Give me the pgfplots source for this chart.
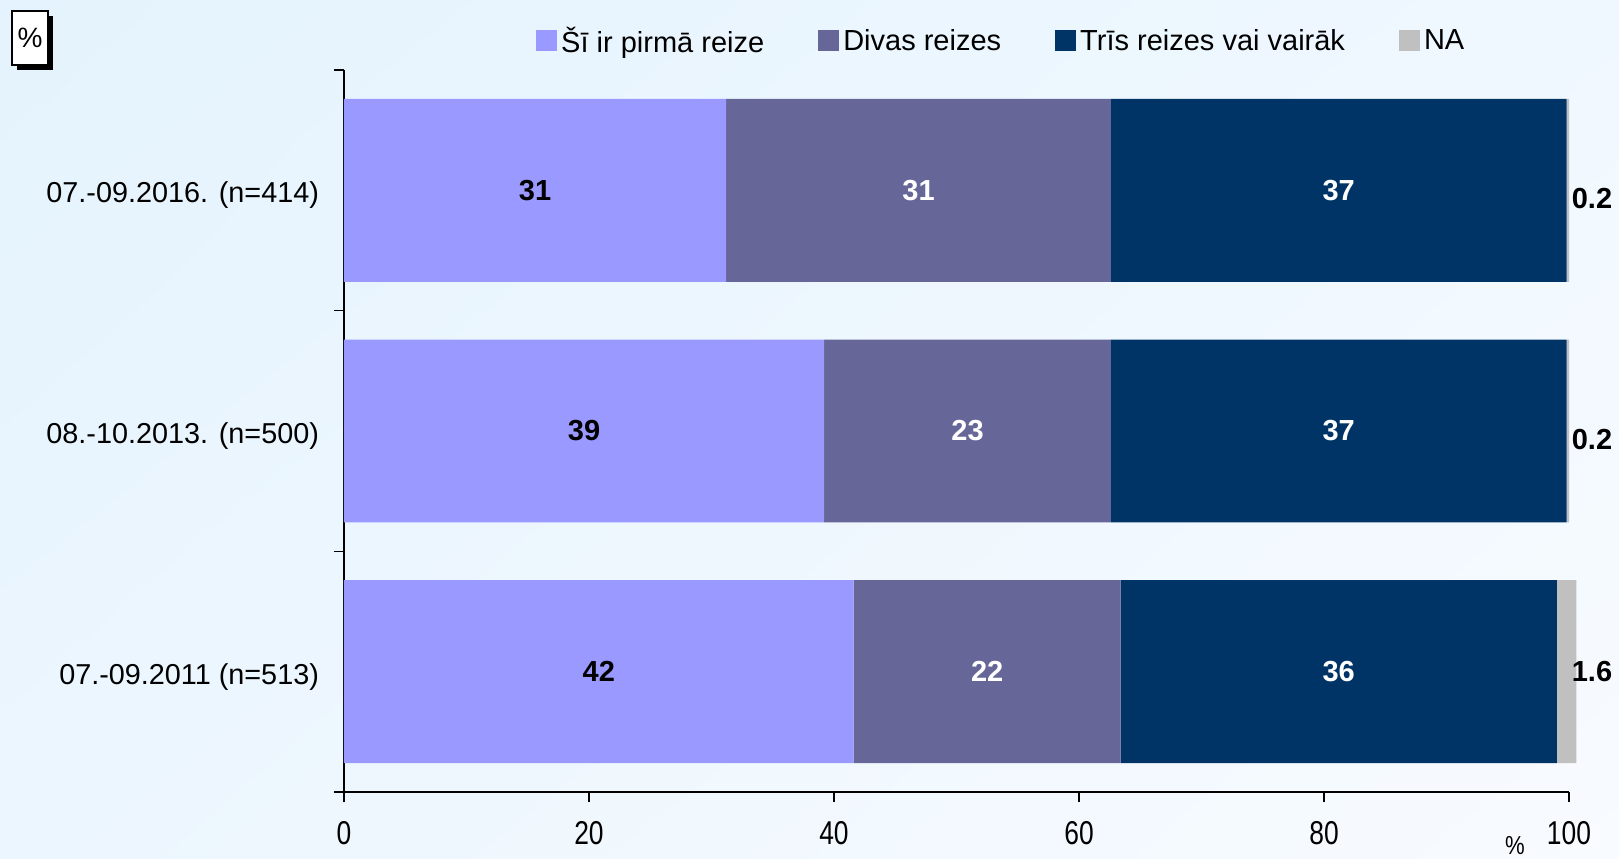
\documentclass[border=0pt]{standalone}
\usepackage{pgfplots}
\pgfplotsset{compat=1.18}
\usetikzlibrary{shadings}
\usepackage{fontspec}
\setmainfont{Liberation Sans}
\usepackage{graphicx}

\definecolor{c1}{HTML}{9999FF}
\definecolor{c2}{HTML}{666699}
\definecolor{c3}{HTML}{003366}
\definecolor{c4}{HTML}{C0C0C0}
\definecolor{bgUL}{RGB}{228,243,253}
\definecolor{bgUR}{RGB}{240,248,255}
\definecolor{bgLL}{RGB}{236,246,254}
\definecolor{bgLR}{RGB}{248,251,255}

\pgfplotstableread{
x y l
15.6 0 31
19.6 1 39
20.8 2 42
}\blacklabels
\pgfplotstableread{
x y l
46.9 0 31
50.9 1 23
52.5 2 22
81.2 0 37
81.2 1 37
81.2 2 36
}\whitelabels
\pgfplotstableread{
x y l
100.2 0.035 0.2
100.2 1.035 0.2
100.2 2 1.6
}\nalabels

\begin{document}
\begin{tikzpicture}
\useasboundingbox (0,0) rectangle (809.5pt,429pt);
\shade[upper left=bgUL, upper right=bgUR, lower left=bgLL, lower right=bgLR] (0,0) rectangle (809.5pt,429pt);
% percent box
\fill[black] (8.5pt,394pt) rectangle (26.5pt,421pt);
\draw[black, line width=0.6pt, fill=white] (6pt,396.5pt) rectangle (24pt,423.5pt);
\node[font=\fontsize{14}{16}\selectfont] at (15pt,410pt) {\%};

\begin{axis}[
  at={(172pt,33pt)}, anchor=south west,
  scale only axis, width=612.5pt, height=361pt,
  xbar stacked, bar width=0.76,
  xmin=0, xmax=100, ymin=-0.5, ymax=2.5, y dir=reverse,
  clip=false,
  axis x line*=bottom, axis y line*=left,
  axis line style={line width=0.8pt, black, -},
  tick align=outside,
  xtick={0,20,40,60,80,100},
  major tick length=5pt, minor tick length=5pt,
  every major x tick/.style={black, line width=0.8pt},
  ytick={0,1,2},
  yticklabels={07.-09.2016. (n=414), 08.-10.2013. (n=500), 07.-09.2011 (n=513)},
  minor ytick={-0.5,0.5,1.5,2.5},
  every major y tick/.style={draw=none},
  every minor y tick/.style={black, line width=0.8pt},
  yticklabel style={font=\fontsize{14.4}{17}\selectfont, xshift=-4pt, yshift=-2.5pt},
  xticklabel style={font=\fontsize{16.5}{18}\selectfont, yshift=-6pt},
  xticklabel={\scalebox{0.8}[1]{\pgfmathprintnumber{\tick}}},
  /pgf/number format/assume math mode=true,
  legend style={at={(0.1566,1.040)}, anchor=west, draw=none, fill=none,
    legend columns=4, font=\fontsize{14.5}{17}\selectfont, inner sep=0pt,
    /tikz/every even column/.append style={column sep=25pt}},
  legend image code/.code={\fill[#1] (-1pt,-5pt) rectangle (9.5pt,5.5pt);},
]
\addplot[fill=c1, draw=none] coordinates {(31.2,0) (39.2,1) (41.6,2)};
\addplot[fill=c2, draw=none] coordinates {(31.4,0) (23.4,1) (21.8,2)};
\addplot[fill=c3, draw=none] coordinates {(37.2,0) (37.2,1) (35.6,2)};
\addplot[fill=c4, draw=none] coordinates {(0.2,0) (0.2,1) (1.6,2)};
\legend{Šī ir pirmā reize, Divas reizes, Trīs reizes vai vairāk, NA}
\end{axis}

\begin{axis}[
  at={(172pt,33pt)}, anchor=south west,
  scale only axis, width=612.5pt, height=361pt,
  xmin=0, xmax=100, ymin=-0.5, ymax=2.5, y dir=reverse,
  hide axis, clip=false,
]
\addplot[draw=none, mark=none, nodes near coords, point meta=explicit symbolic,
  every node near coord/.append style={anchor=center, text=black, font=\fontsize{14.5}{17}\selectfont\bfseries}]
  table[x=x, y=y, meta=l] {\blacklabels};
\addplot[draw=none, mark=none, nodes near coords, point meta=explicit symbolic,
  every node near coord/.append style={anchor=center, text=white, font=\fontsize{14.5}{17}\selectfont\bfseries}]
  table[x=x, y=y, meta=l] {\whitelabels};
\addplot[draw=none, mark=none, nodes near coords, point meta=explicit symbolic,
  every node near coord/.append style={anchor=west, inner sep=0pt, text=black, font=\fontsize{14.5}{17}\selectfont\bfseries}]
  table[x=x, y=y, meta=l] {\nalabels};
\end{axis}

\node[font=\fontsize{13}{15}\selectfont] at (757.5pt,6pt) {\scalebox{0.85}[1]{\%}};
\end{tikzpicture}
\end{document}
